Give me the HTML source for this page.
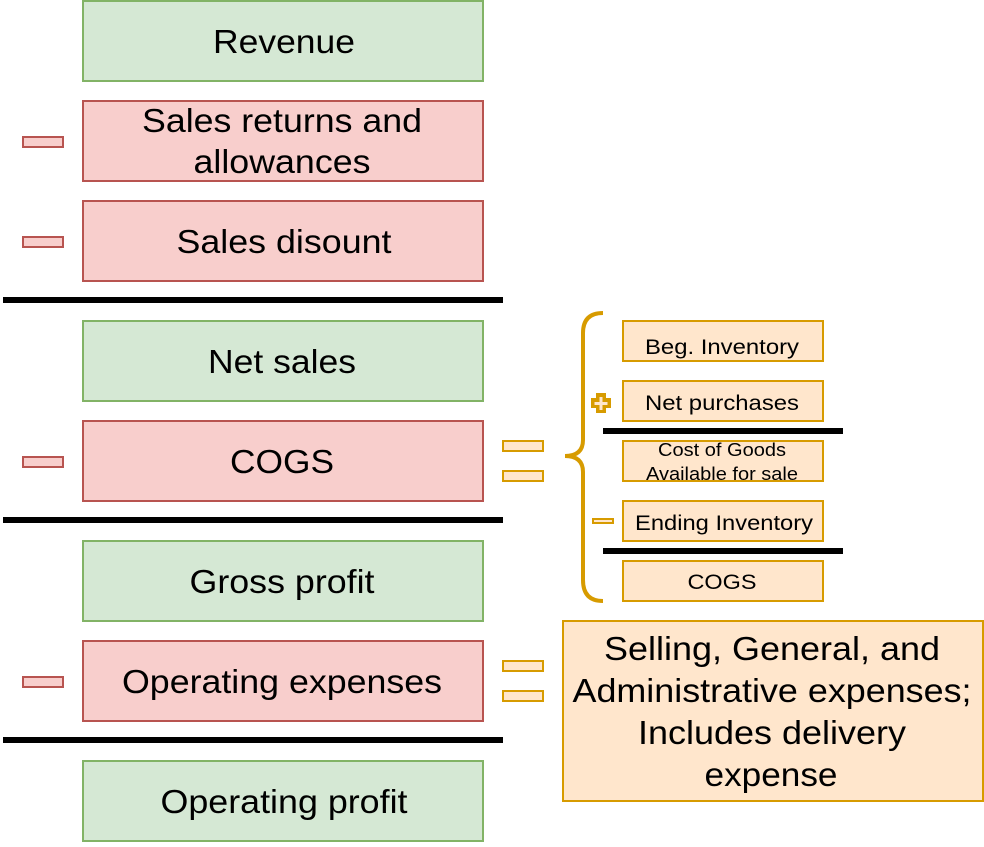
<!DOCTYPE html>
<html><head><meta charset="utf-8"><style>
body{margin:0;width:984px;height:842px;background:#fff;overflow:hidden}
</style></head><body>
<svg width="984" height="842" xmlns="http://www.w3.org/2000/svg" font-family="Liberation Sans, sans-serif">
<g stroke-width="2">
<rect x="83" y="1" width="400" height="80" fill="#d5e8d4" stroke="#82b366"/>
<rect x="83" y="101" width="400" height="80" fill="#f8cecc" stroke="#b85450"/>
<rect x="83" y="201" width="400" height="80" fill="#f8cecc" stroke="#b85450"/>
<rect x="83" y="321" width="400" height="80" fill="#d5e8d4" stroke="#82b366"/>
<rect x="83" y="421" width="400" height="80" fill="#f8cecc" stroke="#b85450"/>
<rect x="83" y="541" width="400" height="80" fill="#d5e8d4" stroke="#82b366"/>
<rect x="83" y="641" width="400" height="80" fill="#f8cecc" stroke="#b85450"/>
<rect x="83" y="761" width="400" height="80" fill="#d5e8d4" stroke="#82b366"/>
<rect x="23" y="137" width="40" height="10" fill="#f8cecc" stroke="#b85450"/>
<rect x="23" y="237" width="40" height="10" fill="#f8cecc" stroke="#b85450"/>
<rect x="23" y="457" width="40" height="10" fill="#f8cecc" stroke="#b85450"/>
<rect x="23" y="677" width="40" height="10" fill="#f8cecc" stroke="#b85450"/>
<rect x="503" y="441" width="40" height="10" fill="#ffe6cc" stroke="#d79b00"/>
<rect x="503" y="471" width="40" height="10" fill="#ffe6cc" stroke="#d79b00"/>
<rect x="503" y="661" width="40" height="10" fill="#ffe6cc" stroke="#d79b00"/>
<rect x="503" y="691" width="40" height="10" fill="#ffe6cc" stroke="#d79b00"/>
<rect x="623" y="321" width="200" height="40" fill="#ffe6cc" stroke="#d79b00"/>
<rect x="623" y="381" width="200" height="40" fill="#ffe6cc" stroke="#d79b00"/>
<rect x="623" y="441" width="200" height="40" fill="#ffe6cc" stroke="#d79b00"/>
<rect x="623" y="501" width="200" height="40" fill="#ffe6cc" stroke="#d79b00"/>
<rect x="623" y="561" width="200" height="40" fill="#ffe6cc" stroke="#d79b00"/>
<rect x="563" y="621" width="420" height="180" fill="#ffe6cc" stroke="#d79b00"/>
<rect x="593" y="519" width="20" height="4" fill="#ffe6cc" stroke="#d79b00"/>
</g>
<path d="M596,393h10v5h5v10h-5v5h-10v-5h-5v-10h5z" fill="#d79b00"/>
<path d="M599.5,397h3v5h5v3h-5v5h-3v-5h-5v-3h5z" fill="#ffe6cc"/>
<rect x="3" y="297" width="500" height="6" fill="#000"/>
<rect x="3" y="517" width="500" height="6" fill="#000"/>
<rect x="3" y="737" width="500" height="6" fill="#000"/>
<rect x="603" y="428" width="240" height="6" fill="#000"/>
<rect x="603" y="548" width="240" height="6" fill="#000"/>
<path d="M603,313 Q583,313 583,333 V440 Q583,456 565,456 Q583,456 583,472 V580 Q583,601 603,601" fill="none" stroke="#d79b00" stroke-width="4"/>
<g text-anchor="middle" font-size="33" fill="#000">
<text x="284" y="53" textLength="142" lengthAdjust="spacingAndGlyphs">Revenue</text>
<text x="282" y="132" textLength="280" lengthAdjust="spacingAndGlyphs">Sales returns and</text>
<text x="282" y="173" textLength="177" lengthAdjust="spacingAndGlyphs">allowances</text>
<text x="284" y="253" textLength="215" lengthAdjust="spacingAndGlyphs">Sales disount</text>
<text x="282" y="373" textLength="148" lengthAdjust="spacingAndGlyphs">Net sales</text>
<text x="282" y="473" textLength="104" lengthAdjust="spacingAndGlyphs">COGS</text>
<text x="282" y="593" textLength="185" lengthAdjust="spacingAndGlyphs">Gross profit</text>
<text x="282" y="693" textLength="320" lengthAdjust="spacingAndGlyphs">Operating expenses</text>
<text x="284" y="813" textLength="247" lengthAdjust="spacingAndGlyphs">Operating profit</text>
<text x="772" y="660" textLength="336" lengthAdjust="spacingAndGlyphs">Selling, General, and</text>
<text x="772" y="702" textLength="399" lengthAdjust="spacingAndGlyphs">Administrative expenses;</text>
<text x="772" y="744" textLength="268" lengthAdjust="spacingAndGlyphs">Includes delivery</text>
<text x="771" y="786" textLength="133" lengthAdjust="spacingAndGlyphs">expense</text>
</g>
<g text-anchor="middle" font-size="21" fill="#000">
<text x="722" y="354" textLength="154" lengthAdjust="spacingAndGlyphs">Beg. Inventory</text>
<text x="722" y="410" textLength="154" lengthAdjust="spacingAndGlyphs">Net purchases</text>
<text x="724" y="530" textLength="178" lengthAdjust="spacingAndGlyphs">Ending Inventory</text>
<text x="722" y="589" textLength="69" lengthAdjust="spacingAndGlyphs">COGS</text>
</g>
<g text-anchor="middle" font-size="18" fill="#000">
<text x="722" y="456" textLength="128" lengthAdjust="spacingAndGlyphs">Cost of Goods</text>
<text x="722" y="480" textLength="152" lengthAdjust="spacingAndGlyphs">Available for sale</text>
</g>
</svg>
</body></html>
